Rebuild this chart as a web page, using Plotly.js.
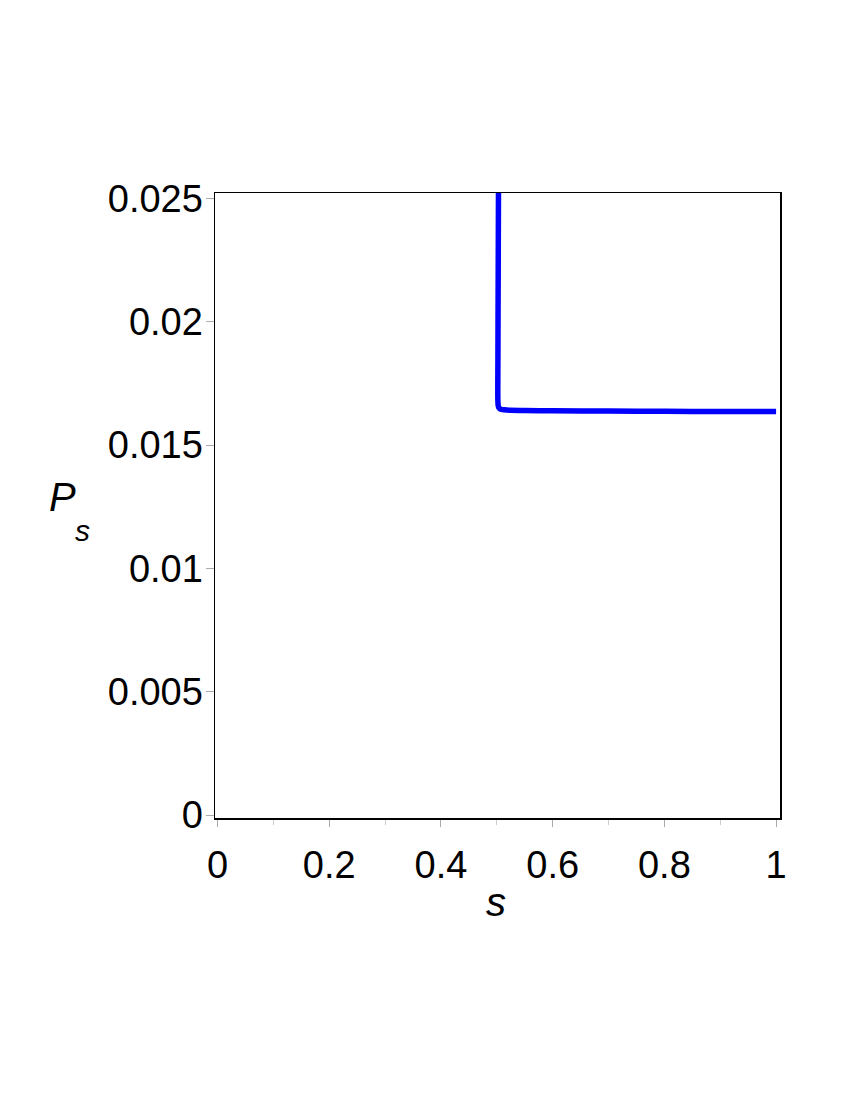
<!DOCTYPE html>
<html>
<head>
<meta charset="utf-8">
<script src="https://cdn.plot.ly/plotly-3.0.1.min.js"></script>
<style>html,body{margin:0;padding:0;background:#fff;}#chart{width:850px;height:1100px;}</style>
</head>
<body>
<div id="chart"></div>
<script>
// Curve P_s(s)
var sVals = [0.5030, 0.5028, 0.5025, 0.5022, 0.5020, 0.5018, 0.5018, 0.5020, 0.5025, 0.5035, 0.5050, 0.5080, 0.5130, 0.5250, 0.5500, 0.6000, 0.7000, 0.8000, 0.9000, 1.0000];
var pVals = [0.02530, 0.02400, 0.02200, 0.02000, 0.01850, 0.01750, 0.01700, 0.01675, 0.01660, 0.01652, 0.01648, 0.01645, 0.01643, 0.01641, 0.01640, 0.01639, 0.01638, 0.01637, 0.01636, 0.01636];

var xTickVals = [0, 0.2, 0.4, 0.6, 0.8, 1];
var xTickText = ['0', '0.2', '0.4', '0.6', '0.8', '1'];
var yTickVals = [0, 0.005, 0.01, 0.015, 0.02, 0.025];
var yTickText = ['0', '0.005', '0.01', '0.015', '0.02', '0.025'];

var font = 'Liberation Sans, Arial, sans-serif';

var trace = {
  x: sVals, y: pVals, type: 'scatter', mode: 'lines',
  line: {color: '#0000ff', width: 5.5, shape: 'spline', smoothing: 0.6},
  hoverinfo: 'none'
};

var layout = {
  width: 850, height: 1100,
  margin: {l: 215, r: 70, t: 193, b: 282, pad: 0},
  paper_bgcolor: '#fff', plot_bgcolor: '#fff',
  showlegend: false,
  font: {family: font, color: '#000', size: 37},
  xaxis: {
    range: [-0.0045, 1.007],
    tickvals: xTickVals, ticktext: xTickText,
    ticks: 'outside', ticklen: 7, tickwidth: 1, tickcolor: '#aaaaaa',
    minor: {dtick: 0.1, tick0: 0, ticks: 'outside', ticklen: 5, tickcolor: '#cccccc', tickwidth: 1},
    showline: true, linecolor: '#000', linewidth: 1.5, mirror: true,
    showgrid: false, zeroline: false,
    tickfont: {family: font, size: 38, color: '#000'},
    ticklabelstandoff: 6
  },
  yaxis: {
    range: [-0.00012, 0.02522],
    tickvals: yTickVals, ticktext: yTickText,
    ticks: 'outside', ticklen: 8, tickwidth: 1, tickcolor: '#aaaaaa',
    showline: true, linecolor: '#000', linewidth: 1.5, mirror: true,
    showgrid: false, zeroline: false,
    tickfont: {family: font, size: 38, color: '#000'},
    ticklabelstandoff: -5
  },
  annotations: [
    {text: '<i>s</i>', xref: 'paper', yref: 'paper', x: 0.498, y: -0.135, xanchor: 'center', yanchor: 'middle', showarrow: false, font: {family: font, size: 40, color: '#000'}},
    {text: '<i>P</i>', xref: 'paper', yref: 'paper', x: -0.27, y: 0.513, xanchor: 'center', yanchor: 'middle', showarrow: false, font: {family: font, size: 40, color: '#000'}},
    {text: '<i>s</i>', xref: 'paper', yref: 'paper', x: -0.235, y: 0.46, xanchor: 'center', yanchor: 'middle', showarrow: false, font: {family: font, size: 30, color: '#000'}}
  ]
};

Plotly.newPlot('chart', [trace], layout, {displayModeBar: false, staticPlot: true});
</script>
</body>
</html>
